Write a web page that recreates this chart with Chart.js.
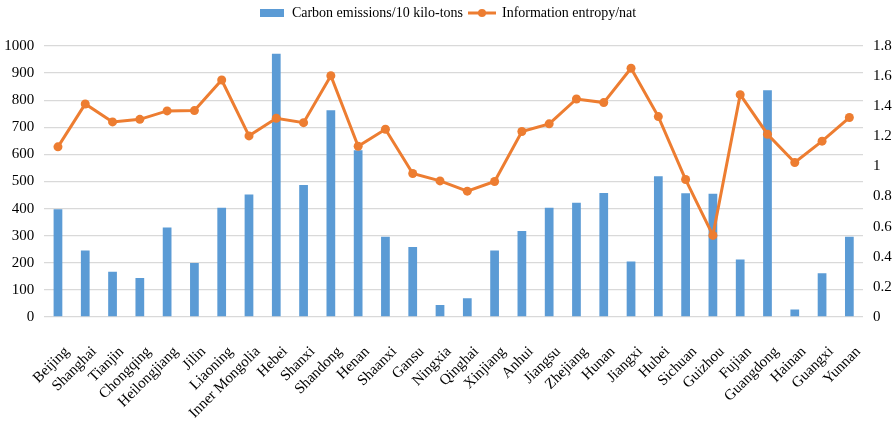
<!DOCTYPE html>
<html>
<head>
<meta charset="utf-8">
<script src="https://cdn.jsdelivr.net/npm/chart.js@4/dist/chart.umd.min.js"></script>
<style>
  html, body { margin: 0; padding: 0; background: #ffffff; }
  #wrap { width: 895px; height: 428px; }
</style>
</head>
<body>
<div id="wrap"><canvas id="c" width="895" height="428"></canvas></div>
<script>
const categories = ["Beijing","Shanghai","Tianjin","Chongqing","Heilongjiang","Jilin","Liaoning","Inner Mongolia","Hebei","Shanxi","Shandong","Henan","Shaanxi","Gansu","Ningxia","Qinghai","Xinjiang","Anhui","Jiangsu","Zhejiang","Hunan","Jiangxi","Hubei","Sichuan","Guizhou","Fujian","Guangdong","Hainan","Guangxi","Yunnan"];
const carbonEmissions = [398,245,167,144,330,199,403,452,971,487,763,615,296,258,44,69,245,317,403,422,458,205,519,457,455,212,837,28,161,296];
const informationEntropy = [1.13,1.415,1.296,1.313,1.369,1.371,1.574,1.203,1.32,1.291,1.603,1.134,1.247,0.953,0.904,0.836,0.9,1.232,1.283,1.448,1.424,1.652,1.331,0.913,0.542,1.477,1.214,1.026,1.168,1.325];
const leftTicks = [0,100,200,300,400,500,600,700,800,900,1000];
const rightTicks = [0,0.2,0.4,0.6,0.8,1,1.2,1.4,1.6,1.8];
const seriesNames = ["Carbon emissions/10 kilo-tons","Information entropy/nat"];

const BLUE = '#5B9BD5';
const ORANGE = '#ED7D31';
const FONT = "'Liberation Serif', 'Times New Roman', serif";

function barIcon(){
  const c = document.createElement('canvas'); c.width = 24; c.height = 8;
  const g = c.getContext('2d'); g.fillStyle = BLUE; g.fillRect(0,0,24,8); return c;
}
function lineIcon(){
  const c = document.createElement('canvas'); c.width = 28; c.height = 10;
  const g = c.getContext('2d'); g.strokeStyle = ORANGE; g.lineWidth = 3;
  g.beginPath(); g.moveTo(0,5); g.lineTo(28,5); g.stroke();
  g.fillStyle = ORANGE; g.beginPath(); g.arc(14,5,4,0,Math.PI*2); g.fill(); return c;
}
const icons = [barIcon(), lineIcon()];

const fixLegend = {
  id: 'fixLegend',
  beforeLayout(chart){
    const lg = chart.legend;
    if (lg && !lg._wrapped){
      const f = lg.fit;
      lg.fit = function(){ f.call(this); this.height = 46; };
      lg._wrapped = true;
    }
  }
};

new Chart(document.getElementById('c'), {
  data: {
    labels: categories,
    datasets: [
      {
        type: 'bar', label: seriesNames[0], data: carbonEmissions, yAxisID: 'y',
        backgroundColor: BLUE, borderWidth: 0,
        categoryPercentage: 1.0, barPercentage: 0.32, order: 2
      },
      {
        type: 'line', label: seriesNames[1], data: informationEntropy, yAxisID: 'y1',
        borderColor: ORANGE, backgroundColor: ORANGE, borderWidth: 3,
        pointRadius: 4.5, pointHoverRadius: 4.5, pointBackgroundColor: ORANGE,
        pointBorderWidth: 0, tension: 0, order: 1
      }
    ]
  },
  options: {
    responsive: false,
    animation: false,
    layout: { padding: 0 },
    plugins: {
      tooltip: { enabled: false },
      legend: {
        position: 'top',
        labels: {
          usePointStyle: true,
          pointStyleWidth: 26,
          padding: 6,
          color: '#000',
          font: { family: FONT, size: 14 },
          generateLabels(chart){
            const items = Chart.defaults.plugins.legend.labels.generateLabels(chart);
            items.sort((a, b) => a.datasetIndex - b.datasetIndex);
            items.forEach(it => { it.pointStyle = icons[it.datasetIndex]; });
            return items;
          }
        }
      }
    },
    scales: {
      x: {
        grid: { display: false, drawTicks: false },
        border: { display: false },
        ticks: {
          autoSkip: false, minRotation: 45, maxRotation: 45, padding: 26, labelOffset: 9,
          color: '#000', font: { family: FONT, size: 15 }
        },
        afterFit(s){ s.height = 111; }
      },
      y: {
        position: 'left', min: 0, max: 1000,
        afterBuildTicks(s){ s.ticks = leftTicks.map(v => ({ value: v })); },
        grid: { color: '#D9D9D9', lineWidth: 1.3, drawTicks: false },
        border: { display: false },
        ticks: {
          padding: 10, color: '#000', font: { family: FONT, size: 15 },
          callback: v => String(v)
        },
        afterFit(s){ s.width = 44; }
      },
      y1: {
        position: 'right', min: 0, max: 1.8,
        afterBuildTicks(s){ s.ticks = rightTicks.map(v => ({ value: v })); },
        grid: { display: false, drawTicks: false },
        border: { display: false },
        ticks: {
          padding: 10, color: '#000', font: { family: FONT, size: 15 },
          callback: v => String(Math.round(v * 10) / 10)
        },
        afterFit(s){ s.width = 32; }
      }
    }
  },
  plugins: [fixLegend]
});
</script>
</body>
</html>
